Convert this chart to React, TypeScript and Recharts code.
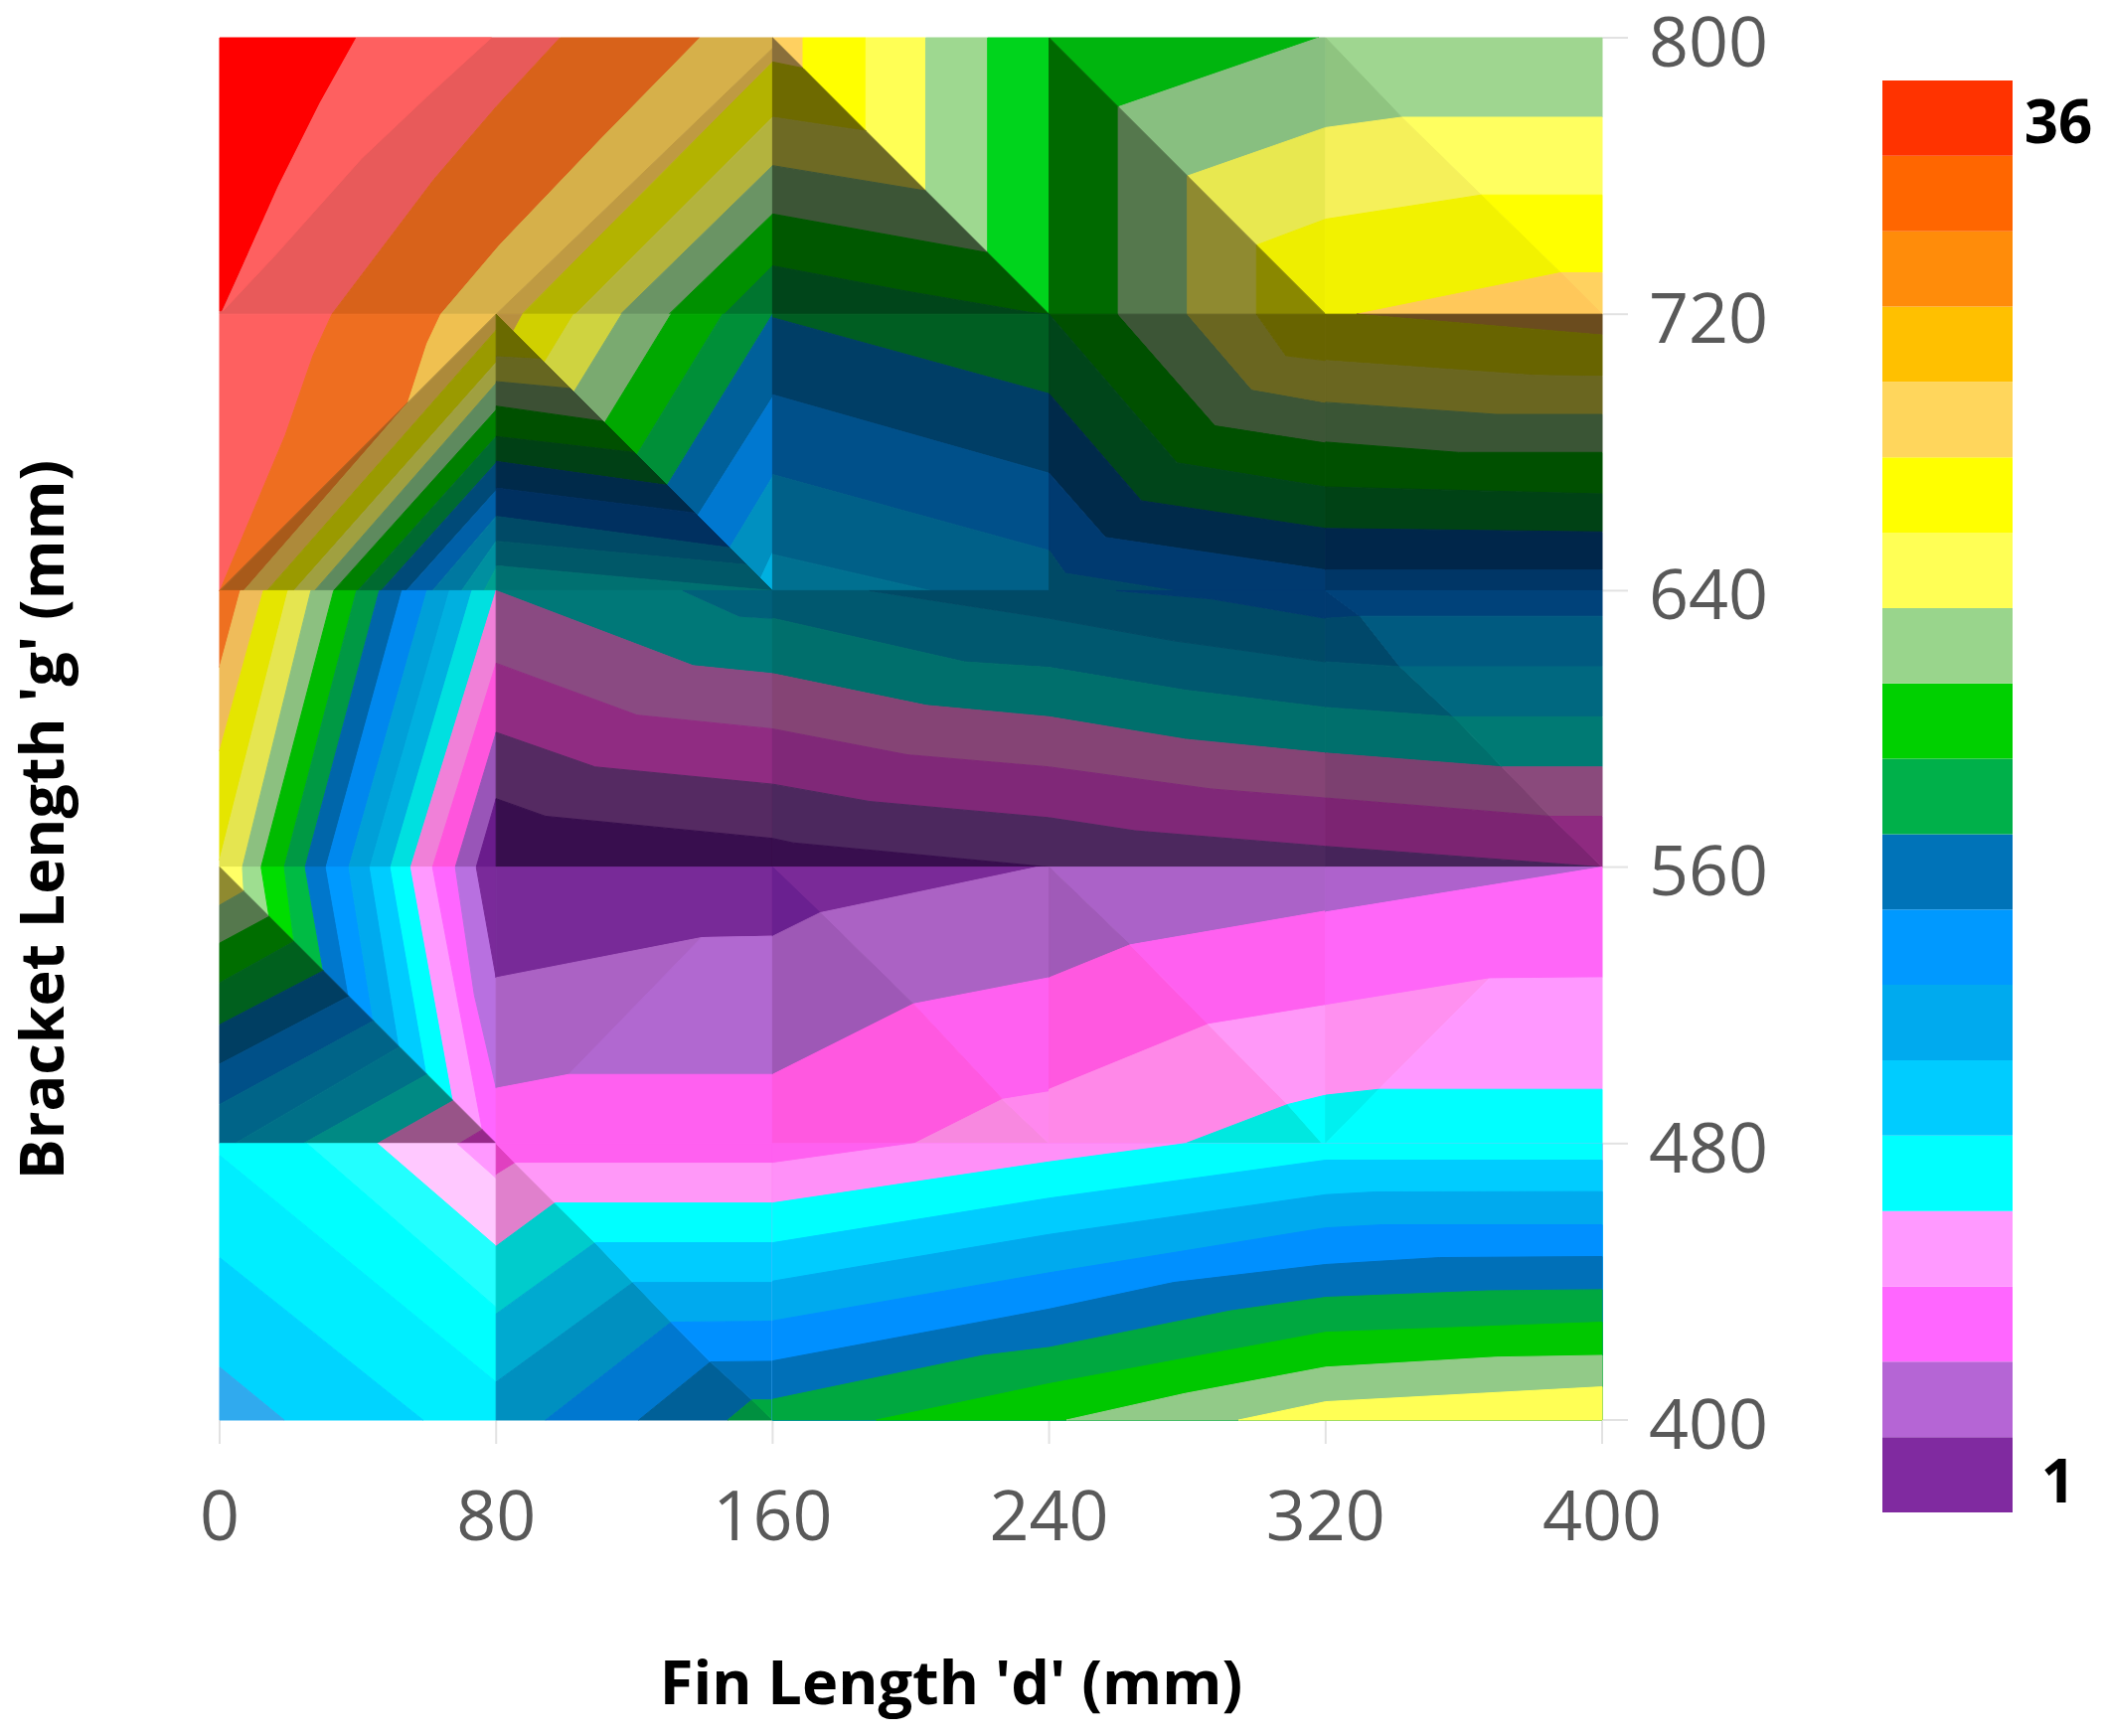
import React from 'react';
import { ScatterChart, Scatter, XAxis, YAxis, BarChart, Bar } from 'recharts';

type Band = [string, number[]];

const xTicks = [0, 80, 160, 240, 320, 400];
const yTicks = [400, 480, 560, 640, 720, 800];
const xTitle = "Fin Length 'd' (mm)";
const yTitle = "Bracket Length 'g' (mm)";
const scaleMax = '36';
const scaleMin = '1';
const scaleColors = ['#ff3300', '#ff6600', '#ff8c0a', '#ffc000', '#ffd65c', '#ffff00', '#ffff55', '#99d58c', '#00d000', '#00b04a', '#0073b8', '#0099ff', '#00aaee', '#00ccff', '#00ffff', '#ff99ff', '#ff66ff', '#b565d5', '#802aa0'];

const row720a: Band[] = [
  ['#e85a5a', [39.6,800,98.5,800,80,780,62,759,32.5,720,0,720,0,721]],
  ['#ff0000', [0,800,39.6,800,29,781,17,757,0.5,721,0,721]],
  ['#fe6060', [39.6,800,78.6,800,60,783,41,765,16,737,1,721,17,757,29,781]],
  ['#d8621a', [98.5,800,139,800,110.6,771,81,740,64,720,32.5,720,62,759,80,780]],
  ['#d6b04a', [139,800,160,800,160,797,80,720,64,720,81,740,110.6,771]],
  ['#bf9a42', [160,797,160,793,87.5,720,80,720]],
  ['#b3b300', [160,793,160,777,103,720,87.5,720]],
  ['#b3b33e', [160,777,160,763,116,720,103,720]],
  ['#6a9464', [160,763,160,749,130,720,116,720]],
  ['#009000', [160,749,160,734,146,720,130,720]],
  ['#00752f', [160,734,160,720,146,720]],
  ['#ffd060', [160,800,168.8,800,168.8,791.2]],
  ['#ffff00', [168.8,800,187,800,187,773,168.8,791.2]],
  ['#ffff55', [187,800,204.3,800,204.3,755.7,187,773]],
  ['#9ed890', [204.3,800,222.2,800,222.2,737.8,204.3,755.7]],
  ['#00d41c', [222.2,800,240,800,240,720,222.2,737.8]],
  ['#8a6f3a', [160,800,160,793,168.8,791.2]],
  ['#6e6a00', [160,793,160,777,180,774,187,773,168.8,791.2]],
  ['#6e6a24', [160,777,160,763,204.3,755.7,187,773,180,774]],
  ['#3c5536', [160,763,160,749,222.2,737.8,204.3,755.7]],
  ['#005800', [160,749,222.2,737.8,240,720,234,720.6,199,726.6,160,734]],
  ['#00451a', [160,734,199,726.6,234,720.6,240,720,160,720]],
];

const row720b: Band[] = [
  ['#00b50e', [240,800,318,800,260,780]],
  ['#88bf80', [318,800,320,800,320,774,280,760,260,780]],
  ['#e8e850', [280,760,320,774,320,747.5,300,740]],
  ['#eeee00', [300,740,320,747.5,320,720]],
  ['#006a00', [240,800,260,780,260,720,240,720]],
  ['#55784d', [260,780,280,760,280,720,260,720]],
  ['#8f8a30', [280,760,300,740,300,720,280,720]],
  ['#8a8800', [300,740,320,720,300,720]],
  ['#9fd690', [320,800,400,800,400,777,342,777]],
  ['#ffff60', [342,777,400,777,400,754.5,365,754.5]],
  ['#ffff00', [365,754.5,400,754.5,400,732,388,732]],
  ['#ffd260', [388,732,400,732,400,720]],
  ['#8fc480', [320,800,342,777,320,774]],
  ['#f5f05a', [320,774,342,777,365,754.5,320,747.5]],
  ['#f2f200', [320,747.5,365,754.5,388,732,329,720,320,720]],
  ['#ffc85a', [329,720,388,732,400,720]],
];

const row640a: Band[] = [
  ['#fe6060', [0,720,32.5,720,27,708,19,685,0.5,641,0,640]],
  ['#ee6e20', [32.5,720,64,720,60,711.5,54.5,694.5,0,640,0.5,641,19,685,27,708]],
  ['#efc050', [64,720,80,720,54.5,694.5,60,711.5]],
  ['#a85a1a', [0,640,54.5,694.5,7,640]],
  ['#ad8a3a', [80,720,80,715.4,13.75,640,7,640,54.5,694.5]],
  ['#9a9a00', [80,715.4,80,706,21.5,640,13.75,640]],
  ['#a0a040', [80,706,80,700,27.5,640,21.5,640]],
  ['#5e8a5e', [80,700,80,692.3,33,640,27.5,640]],
  ['#008000', [80,692.3,80,684.6,40,640,33,640]],
  ['#006a30', [80,684.6,80,677,46.75,640,40,640]],
  ['#004a78', [80,677,80,669,54,640,46.75,640]],
  ['#0060a8', [80,669,80,661.5,61.6,640,54,640]],
  ['#0078a0', [80,661.5,80,654.3,70,640,61.6,640]],
  ['#0090a0', [80,654.3,80,646.6,76.5,640,70,640]],
  ['#00a090', [80,646.6,80,640,76.5,640]],
  ['#b89040', [80,720,87.7,720,85,715]],
  ['#d0d000', [87.7,720,102.5,720,94,706,85,715]],
  ['#cfd340', [102.5,720,116.3,720,102.5,697.5,94,706]],
  ['#7aaa70', [116.3,720,130.6,720,111.4,688.6,102.5,697.5]],
  ['#00a800', [130.6,720,145.5,720,120.7,679.3,111.4,688.6]],
  ['#008f38', [145.5,720,160,720,129.5,670.5,120.7,679.3]],
  ['#00609a', [160,720,160,696,138.3,661.7,129.5,670.5]],
  ['#0078d0', [160,696,160,673,147.6,652.4,138.3,661.7]],
  ['#0090c0', [160,673,160,651,156.5,643.5,147.6,652.4]],
  ['#00b0e0', [160,651,160,640,156.5,643.5]],
  ['#6a6a00', [80,720,80,707.7,93,707]],
  ['#666620', [80,707.7,80,700.5,101.5,698.5,93,707]],
  ['#3c5034', [80,700.5,80,693.4,111,689,101.5,698.5]],
  ['#005000', [80,693.4,80,684.6,120,680,111,689]],
  ['#004015', [80,684.6,80,677.4,129.5,670.5,120,680]],
  ['#002a4a', [80,677.4,80,669.7,137.5,662.5,129.5,670.5]],
  ['#003060', [80,669.7,80,661.5,147.6,652.4,137.5,662.5]],
  ['#004a66', [80,661.5,80,654.3,152.5,647.5,147.6,652.4]],
  ['#005868', [80,654.3,80,647.2,160,640,152.5,647.5]],
  ['#007070', [80,647.2,80,640,160,640]],
];

const row640b: Band[] = [
  ['#005e22', [160,720,240,720,240,697,160,719]],
  ['#003e66', [160,719,240,697,240,674,160,696.7]],
  ['#00508a', [160,696.7,240,674,240,651.6,160,673.6]],
  ['#006088', [160,673.6,240,651.6,240,640,205.6,640,160,650.5]],
  ['#007090', [160,650.5,205.6,640,160,640]],
  ['#005000', [240,720,260,720,288,688,320,683,320,670,277,677]],
  ['#3c5536', [260,720,280,720,298.6,698.3,320,694.5,320,683,288,688]],
  ['#6a6620', [280,720,300,720,308.5,708,320,706.6,320,694.5,298.6,698.3]],
  ['#686400', [300,720,320,720,320,706.6,308.5,708]],
  ['#00451a', [240,720,277,677,320,670,320,658,266.7,666,240,697]],
  ['#002a4a', [240,697,266.7,666,320,658,320,646,256.3,655.4,240,674]],
  ['#003a70', [240,674,256.3,655.4,320,646,320,640,276,640,244.7,645,240,651.6]],
  ['#004a66', [240,651.6,244.7,645,276,640,240,640]],
  ['#6b4c1e', [329,720,400,720,400,714]],
  ['#686400', [320,720,329,720,400,714,400,702,380.5,702.3,320,706.6]],
  ['#6a6620', [320,706.6,380.5,702.3,400,702,400,691,369.5,691,320,694.5]],
  ['#3a5535', [320,694.5,369.5,691,400,691,400,680,358.5,680,320,683]],
  ['#005000', [320,683,358.5,680,400,680,400,668,320,670]],
  ['#004215', [320,670,400,668,400,657,320,658]],
  ['#00264a', [320,658,400,657,400,646,320,646]],
  ['#003666', [320,646,400,646,400,640,320,640]],
];

const row560a: Band[] = [
  ['#ee7020', [0,640,6,640,0,617.8]],
  ['#efbc5a', [6,640,12.65,640,0,593.6,0,617.8]],
  ['#e5e500', [12.65,640,19.8,640,0,562,0,593.6]],
  ['#e5e550', [19.8,640,26.4,640,6.6,560,0,560,0,562]],
  ['#8cc080', [26.4,640,33,640,12,560,6.6,560]],
  ['#00bb00', [33,640,39.6,640,18.7,560,12,560]],
  ['#009944', [39.6,640,46.2,640,24.75,560,18.7,560]],
  ['#0066aa', [46.2,640,52.8,640,30.8,560,24.75,560]],
  ['#0088ee', [52.8,640,60,640,37.4,560,30.8,560]],
  ['#00a0d8', [60,640,66.5,640,43.5,560,37.4,560]],
  ['#00b0e0', [66.5,640,73,640,49.5,560,43.5,560]],
  ['#00e0e0', [73,640,80,640,55.3,560,49.5,560]],
  ['#f080d8', [80,640,80,619,61.6,560,55.3,560]],
  ['#ff55dd', [80,619,80,599,68.2,560,61.6,560]],
  ['#9955b8', [80,599,80,579.8,74.25,560,68.2,560]],
  ['#6a1c8c', [80,579.8,80,560,74.25,560]],
  ['#007878', [80,640,134,640,150.4,632.6,160,632,160,616,137,618.3]],
  ['#00607a', [134,640,160,640,160,632,150.4,632.6]],
  ['#8a4a82', [80,640,137,618.3,160,616,160,600,120.7,604,80,619]],
  ['#902c82', [80,619,120.7,604,160,600,160,584,108.6,589,80,599]],
  ['#552a62', [80,599,108.6,589,160,584,160,568.3,94.3,574.7,80,579.8]],
  ['#380e4e', [80,579.8,94.3,574.7,160,568.3,160,560,80,560]],
];

const row560b: Band[] = [
  ['#00586f', [160,640,188,640,240,632,276,625.5,320,619.4,320,606.2,279.4,611.2,240,617.8,215.5,619.4,160,632]],
  ['#004a66', [188,640,259.5,640,287,637.6,320,632,320,619.4,276,625.5,240,632]],
  ['#003a70', [259.5,640,320,640,320,632,287,637.6]],
  ['#006f6c', [160,632,215.5,619.4,240,617.8,279.4,611.2,320,606.2,320,593,279.4,597,240,603.5,204.5,606.8,160,616]],
  ['#854475', [160,616,204.5,606.8,240,603.5,279.4,597,320,593,320,580,287,582.6,240,589,199,592.5,160,600]],
  ['#802878', [160,600,199,592.5,240,589,287,582.6,320,580,320,566,265,570.5,240,574.3,188,579,160,584]],
  ['#4c285e', [160,584,188,579,240,574.3,265,570.5,320,566,320,560,240,560,166,567,160,568.3]],
  ['#380e4e', [160,568.3,166,567,240,560,160,560]],
  ['#003a70', [320,640,330,632.6,320,632]],
  ['#00486a', [320,632,330,632.6,341.5,618,320,619.4]],
  ['#00586f', [320,619.4,341.5,618,357,603.5,320,606.2]],
  ['#006f6c', [320,606.2,357,603.5,371,589,320,593]],
  ['#7c4070', [320,593,371,589,385,574.7,320,580]],
  ['#7c2472', [320,580,385,574.7,400,560,320,566]],
  ['#46245a', [320,566,400,560,320,560]],
  ['#00427a', [320,640,400,640,400,632.6,330,632.6]],
  ['#005a80', [330,632.6,400,632.6,400,618,341.5,618]],
  ['#006880', [341.5,618,400,618,400,603.5,357,603.5]],
  ['#007a74', [357,603.5,400,603.5,400,589,371,589]],
  ['#8a4a7c', [371,589,400,589,400,574.7,385,574.7]],
  ['#8e2a80', [385,574.7,400,574.7,400,560]],
];

const row480a: Band[] = [
  ['#ffff66', [0,560,6.6,560,7,553]],
  ['#9ede90', [6.6,560,12,560,14.3,545.7,7,553]],
  ['#00dd00', [12,560,18.7,560,21.5,538.5,14.3,545.7]],
  ['#00bb44', [18.7,560,24.75,560,30,530,21.5,538.5]],
  ['#0077cc', [24.75,560,30.8,560,37.4,522.6,30,530]],
  ['#0099ff', [30.8,560,37.4,560,44.5,515.5,37.4,522.6]],
  ['#00aaee', [37.4,560,43.5,560,52,508,44.5,515.5]],
  ['#00ccff', [43.5,560,49.5,560,60,500,52,508]],
  ['#00ffff', [49.5,560,55.3,560,67.6,492.4,60,500]],
  ['#ff99ff', [55.3,560,61.6,560,76,484,67.6,492.4]],
  ['#ff66ff', [61.6,560,68.2,560,73.7,523,80,496.2,80,480,76,484]],
  ['#b870e0', [68.2,560,74.25,560,80,528,80,496.2,73.7,523]],
  ['#7a2a9a', [74.25,560,80,560,80,528]],
  ['#8f8a30', [0,560,0,549,7,553]],
  ['#55784d', [0,549,0,538,14.3,545.7,7,553]],
  ['#006e00', [0,538,0,526.5,21.5,538.5,14.3,545.7]],
  ['#00601e', [0,526.5,0,514.4,30,530,21.5,538.5]],
  ['#003e62', [0,514.4,0,503,37.4,522.6,30,530]],
  ['#005088', [0,503,0,491.3,44.5,515.5,37.4,522.6]],
  ['#006488', [0,491.3,0,480,4.4,480,52,508,44.5,515.5]],
  ['#007088', [4.4,480,24.2,480,60,500,52,508]],
  ['#008a84', [24.2,480,45.65,480,67.6,492.4,60,500]],
  ['#985488', [45.65,480,69.3,480,76,484,67.6,492.4]],
  ['#96288a', [69.3,480,80,480,76,484]],
  ['#782a98', [80,560,160,560,160,540,139.4,539.6,80,528]],
  ['#ab62c4', [80,528,139.4,539.6,160,540,160,500,101,500,80,496]],
  ['#b168d0', [139.4,539.6,160,540,160,500,101,500]],
  ['#ff60f0', [80,496,101,500,160,500,160,480,80,480]],
];

const row480b: Band[] = [
  ['#7a2a98', [160,560,236.5,560,173.75,546.8,160,540]],
  ['#6a2090', [160,560,173.75,546.8,160,540]],
  ['#ab62c4', [173.75,546.8,236.5,560,240,560,240,528,200.7,520.4]],
  ['#9e58b6', [160,540,173.75,546.8,200.7,520.4,160,500]],
  ['#ff60f0', [200.7,520.4,240,528,240,495,226.5,492.8]],
  ['#ff58e0', [160,500,200.7,520.4,226.5,492.8,201,480,160,480]],
  ['#f888e0', [201,480,226.5,492.8,240,480]],
  ['#ff88ee', [226.5,492.8,240,495,240,480]],
  ['#ab62c8', [240,560,320,560,320,547.3,263.4,537.5]],
  ['#a05ab8', [240,560,263.4,537.5,240,528]],
  ['#ff58e0', [240,528,263.4,537.5,286,514.5,240,495.7]],
  ['#ff60f0', [263.4,537.5,320,547.3,320,520,286,514.5]],
  ['#ff88e8', [240,495.7,286,514.5,309,491.3,279.4,480,240,480]],
  ['#ff98f8', [286,514.5,320,520,320,494,309,491.3]],
  ['#00e8e0', [279.4,480,309,491.3,319,480]],
  ['#00ffff', [309,491.3,320,494,320,480,319,480]],
  ['#ae62cc', [320,560,400,560,320,547]],
  ['#ff66f8', [320,547,400,560,400,528,367.3,527.7,320,520]],
  ['#ff90f0', [320,520,367.3,527.7,335.4,495.7,320,494]],
  ['#ff98ff', [367.3,527.7,400,528,400,495.7,335.4,495.7]],
  ['#00f0f0', [320,494,335.4,495.7,320,480]],
  ['#00ffff', [335.4,495.7,400,495.7,400,480,320,480]],
];

const row400a: Band[] = [
  ['#ffc8ff', [45.65,480,68.75,480,80,470,80,450.3]],
  ['#ff98ff', [68.75,480,80,480,80,470]],
  ['#22ffff', [25.3,480,45.65,480,80,450.3,80,432.6]],
  ['#00ffff', [0,480,25.3,480,80,432.6,80,411,0,476.6]],
  ['#00eeff', [0,476.6,80,411,80,400,58.85,400,0,447]],
  ['#00d4ff', [0,447,58.85,400,18.7,400,0,415.3]],
  ['#30aaee', [0,415.3,18.7,400,0,400]],
  ['#e040c0', [80,480,85.5,474.3,80,470.9]],
  ['#e080cc', [80,470.9,85.5,474.3,97,462.8,80,450.3]],
  ['#00cccc', [80,450.3,97,462.8,108.6,451.3,80,430.7]],
  ['#00aad0', [80,430.7,108.6,451.3,119.6,439.8,80,411]],
  ['#0090c0', [80,411,119.6,439.8,130.6,428.3,94.3,400,80,400]],
  ['#0078d0', [94.3,400,130.6,428.3,142,416.8,121.25,400]],
  ['#006098', [121.25,400,142,416.8,154,405.8,147,400]],
  ['#009040', [147,400,154,405.8,160,400]],
  ['#ff60f0', [80,480,160,480,160,474.3,85.5,474.3]],
  ['#ff98f8', [85.5,474.3,160,474.3,160,462.8,97,462.8]],
  ['#00ffff', [97,462.8,160,462.8,160,451.3,108.6,451.3]],
  ['#00ccff', [108.6,451.3,160,451.3,160,439.8,119.6,439.8]],
  ['#00aaee', [119.6,439.8,160,439.8,160,428.6,130.6,428.3]],
  ['#0090ff', [130.6,428.3,160,428.6,160,417,142,416.8]],
  ['#0070b8', [142,416.8,160,417,160,405.8,154,405.8]],
  ['#00a840', [154,405.8,160,405.8,160,400]],
];

const row400b: Band[] = [
  ['#ff60f0', [160,480,400,480,400,400,160,400]],
  ['#ff90f8', [160,474.3,201,480,400,480,400,400,160,400]],
  ['#00ffff', [160,462.8,240,474.7,279.4,480,400,480,400,400,160,400]],
  ['#00ccff', [160,451.3,240,464.2,320,475.2,400,475.2,400,400,160,400]],
  ['#00aaee', [160,440.2,240,453.7,320,465.2,334.3,466,400,466.1,400,400,160,400]],
  ['#0090ff', [160,428.7,240,442.6,320,455.6,336.5,456.5,400,456.5,400,400,160,400]],
  ['#0070b8', [160,417.1,240,432.1,276,439.8,320,445,353,447,400,447.3,400,400,160,400]],
  ['#00a840', [160,406,221,418.7,240,421,292.5,431.6,320,435.5,367.3,437.4,400,437.7,400,400,160,400]],
  ['#00c800', [190,400,240,410.5,320,425.4,400,428.3,400,400]],
  ['#92ca88', [245,400,279.4,407.7,320,415.3,369.5,418.2,400,418.7,400,400]],
  ['#ffff55', [294.8,400,320,405.3,400,409.6,400,400]],
];

const bands: Band[] = [...row720a, ...row720b, ...row640a, ...row640b, ...row560a, ...row560b, ...row480a, ...row480b, ...row400a, ...row400b];

const toPoints = (flat: number[]) => {
  const out: { x: number; y: number }[] = [];
  for (let i = 0; i < flat.length; i += 2) out.push({ x: flat[i], y: flat[i + 1] });
  return out;
};

const scaleRow = [Object.fromEntries(scaleColors.map((_, i) => [`b${i}`, 1]))];
const font = '"Open Sans", sans-serif';
const tickStyle = { fontFamily: font, fontSize: 70, fill: '#595959' };

export default function App() {
  return (
    <div style={{ position: 'absolute', left: 0, top: 0, width: 2120, height: 1747, background: '#fff', overflow: 'hidden' }}>
      <ScatterChart width={1800} height={1620} margin={{ top: 38, left: 221, right: 0, bottom: 0 }}>
        <XAxis type="number" dataKey="x" domain={[0, 400]} ticks={xTicks} interval={0} axisLine={false} tickSize={24} tickMargin={47} height={191} tick={tickStyle} tickLine={{ stroke: '#e2e2e2', strokeWidth: 2 }} />
        <YAxis type="number" dataKey="y" orientation="right" domain={[400, 800]} ticks={yTicks} interval={0} axisLine={false} tickSize={26} tickMargin={21} width={188} tick={{ ...tickStyle, dy: 4 }} tickLine={{ stroke: '#e2e2e2', strokeWidth: 2 }} />
        {bands.map(([fill, flat], i) => (
          <Scatter
            key={i}
            data={toPoints(flat)}
            isAnimationActive={false}
            fill={fill}
            shape={() => <g />}
            line={(p: any) => (
              <path
                d={`M${p.points.map((q: any) => `${q.x},${q.y}`).join('L')}Z`}
                fill={fill}
                stroke={fill}
                strokeWidth={1}
                strokeLinejoin="round"
              />
            )}
          />
        ))}
      </ScatterChart>
      <div style={{ position: 'absolute', left: 1894, top: 81 }}>
        <BarChart width={131} height={1441} data={scaleRow} margin={{ top: 0, right: 0, bottom: 0, left: 0 }} barCategoryGap={0}>
          <XAxis hide dataKey={() => 'scale'} />
          <YAxis hide domain={[0, scaleColors.length]} />
          {[...scaleColors].reverse().map((c, i) => (
            <Bar key={c} dataKey={`b${i}`} stackId="s" fill={c} isAnimationActive={false} />
          ))}
        </BarChart>
      </div>
      <div style={{ position: 'absolute', left: 2021, width: 100, top: 81, textAlign: 'center', fontFamily: font, fontWeight: 700, fontSize: 60, lineHeight: '80px', color: '#000' }}>{scaleMax}</div>
      <div style={{ position: 'absolute', left: 2021, width: 100, top: 1449, textAlign: 'center', fontFamily: font, fontWeight: 700, fontSize: 60, lineHeight: '80px', color: '#000' }}>{scaleMin}</div>
      <div style={{ position: 'absolute', left: 457, width: 1000, top: 1651, textAlign: 'center', fontFamily: font, fontWeight: 700, fontSize: 61.3, lineHeight: '80px', color: '#000', whiteSpace: 'nowrap' }}>{xTitle}</div>
      <div style={{ position: 'absolute', left: -459, width: 1000, top: 785, textAlign: 'center', fontFamily: font, fontWeight: 700, fontSize: 61, lineHeight: '80px', color: '#000', whiteSpace: 'nowrap', transform: 'rotate(-90deg)' }}>{yTitle}</div>
    </div>
  );
}
